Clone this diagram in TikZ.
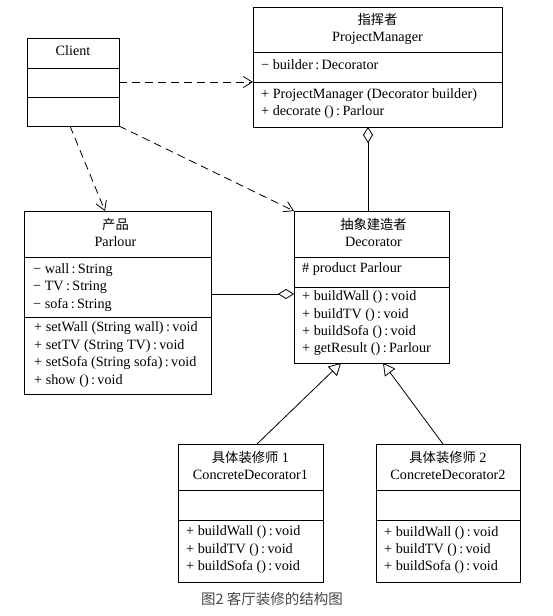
\documentclass[tikz,border=0pt]{standalone}
\usepackage{fontspec}
\setmainfont{Liberation Serif}
\newfontfamily\cjk{Noto Sans CJK SC}
\usetikzlibrary{arrows.meta,calc}
\newcommand\fsz{\fontsize{14.2pt}{17pt}\selectfont}
\newcommand\cfsz{\fontsize{13.3pt}{17pt}\selectfont}
\begin{document}
\begin{tikzpicture}[x=1pt,y=-1pt,
  box/.style={draw, line width=0.9pt, anchor=north west, inner sep=0, outer sep=0},
  txt/.style={anchor=mid west, inner sep=0, font=\fsz},
  ttl/.style={anchor=mid, inner sep=0, font=\fsz},
  ctl/.style={anchor=mid, inner sep=0, font=\cfsz\cjk},
  sep/.style={line width=0.9pt},
  dep/.style={dash pattern=on 8pt off 5pt, line width=0.8pt, -{Straight Barb[length=9pt,width=11pt]}},
  agg/.style={line width=0.8pt, -{Diamond[open,length=16pt,width=10pt,line width=0.8pt]}},
  gen/.style={line width=0.8pt, -{Triangle[open,length=12pt,width=13pt,line width=0.8pt]}}]
\useasboundingbox (0,0) rectangle (552,616);

% Client
\node[box, minimum width=92pt, minimum height=88pt] (client) at (27,38) {};
\draw[sep] ($(client.north west)+(0,30)$) -- ($(client.north east)+(0,30)$);
\draw[sep] ($(client.north west)+(0,59)$) -- ($(client.north east)+(0,59)$);
\node[ttl] (clientT) at ($(client.north)+(0,15)$) {Client};

% ProjectManager
\node[box, minimum width=249pt, minimum height=120pt] (pm) at (253,7) {};
\draw[sep] ($(pm.north west)+(0,45)$) -- ($(pm.north east)+(0,45)$);
\draw[sep] ($(pm.north west)+(0,75)$) -- ($(pm.north east)+(0,75)$);
\node[ctl] (pmC) at ($(pm.north)+(0,15)$) {指挥者};
\node[ttl] (pmT) at ($(pm.north)+(0,32)$) {ProjectManager};
\node[txt] (pmA1) at (261,67) {− builder\,:\,Decorator};
\node[txt] (pmM1) at (261,96) {+ ProjectManager (Decorator builder)};
\node[txt] (pmM2) at (261,113) {+ decorate ()\,:\,Parlour};

% Parlour
\node[box, minimum width=187pt, minimum height=183pt] (parlour) at (24,211) {};
\draw[sep] ($(parlour.north west)+(0,46)$) -- ($(parlour.north east)+(0,46)$);
\draw[sep] ($(parlour.north west)+(0,106)$) -- ($(parlour.north east)+(0,106)$);
\node[ctl] (parC) at ($(parlour.north)+(-2,16)$) {产品};
\node[ttl] (parT) at ($(parlour.north)+(-2,33)$) {Parlour};
\node[txt] (parA1) at (33,271) {− wall\,:\,String};
\node[txt] (parA2) at (33,288) {− TV\,:\,String};
\node[txt] (parA3) at (33,306) {− sofa\,:\,String};
\node[txt] (parM1) at (34,329) {+ setWall (String wall)\,:\,void};
\node[txt] (parM2) at (34,347) {+ setTV (String TV)\,:\,void};
\node[txt] (parM3) at (34,364) {+ setSofa (String sofa)\,:\,void};
\node[txt] (parM4) at (34,382) {+ show ()\,:\,void};

% Decorator
\node[box, minimum width=155pt, minimum height=152pt] (dec) at (294,211) {};
\draw[sep] ($(dec.north west)+(0,46)$) -- ($(dec.north east)+(0,46)$);
\draw[sep] ($(dec.north west)+(0,76)$) -- ($(dec.north east)+(0,76)$);
\node[ctl] (decC) at ($(dec.north)+(2,16)$) {抽象建造者};
\node[ttl] (decT) at ($(dec.north)+(2,33)$) {Decorator};
\node[txt] (decA1) at (302,270) {\# product Parlour};
\node[txt] (decM1) at (302,298) {+ buildWall ()\,:\,void};
\node[txt] (decM2) at (302,316) {+ buildTV ()\,:\,void};
\node[txt] (decM3) at (302,333) {+ buildSofa ()\,:\,void};
\node[txt] (decM4) at (302,350) {+ getResult ()\,:\,Parlour};

% ConcreteDecorator1
\node[box, minimum width=145pt, minimum height=138pt] (cd1) at (178,444) {};
\draw[sep] ($(cd1.north west)+(0,46)$) -- ($(cd1.north east)+(0,46)$);
\draw[sep] ($(cd1.north west)+(0,76)$) -- ($(cd1.north east)+(0,76)$);
\node[ttl] (cd1C) at ($(cd1.north)+(0,16)$) {{\cfsz\cjk 具体装修师} 1};
\node[ttl] (cd1T) at ($(cd1.north)+(0,33)$) {ConcreteDecorator1};
\node[txt] (cd1M1) at (186,533) {+ buildWall ()\,:\,void};
\node[txt] (cd1M2) at (186,551) {+ buildTV ()\,:\,void};
\node[txt] (cd1M3) at (186,568) {+ buildSofa ()\,:\,void};

% ConcreteDecorator2
\node[box, minimum width=144pt, minimum height=138pt] (cd2) at (376,444) {};
\draw[sep] ($(cd2.north west)+(0,46)$) -- ($(cd2.north east)+(0,46)$);
\draw[sep] ($(cd2.north west)+(0,76)$) -- ($(cd2.north east)+(0,76)$);
\node[ttl] (cd2C) at ($(cd2.north)+(0,16)$) {{\cfsz\cjk 具体装修师} 2};
\node[ttl] (cd2T) at ($(cd2.north)+(0,33)$) {ConcreteDecorator2};
\node[txt] (cd2M1) at (384,534) {+ buildWall ()\,:\,void};
\node[txt] (cd2M2) at (384,551) {+ buildTV ()\,:\,void};
\node[txt] (cd2M3) at (384,568) {+ buildSofa ()\,:\,void};

% connectors
\draw[dep] (client.east) -- (client.east -| pm.west);
\draw[dep] ($(client.south)+(-3,0)$) -- ($(parlour.north)+(-12.5,0)$);
\draw[dep] (client.south east) -- (dec.north west);
\draw[agg] ($(dec.north)+(-3.5,0)$) -- ($(pm.south)+(-9.5,0)$);
\draw[agg] ($(parlour.north east)+(0,83)$) -- ($(dec.north west)+(0,83)$);
\draw[gen] ($(cd1.north)+(6.5,0)$) -- ($(dec.south)+(-30.5,0)$);
\draw[gen] ($(cd2.north)+(-5,0)$) -- ($(dec.south)+(11.5,0)$);

% caption
\node[anchor=mid, inner sep=0, font=\fontsize{14.5pt}{17pt}\selectfont\cjk, text={rgb,255:red,70;green,70;blue,70}] (cap) at (272,602) {图2 客厅装修的结构图};
\end{tikzpicture}
\end{document}
